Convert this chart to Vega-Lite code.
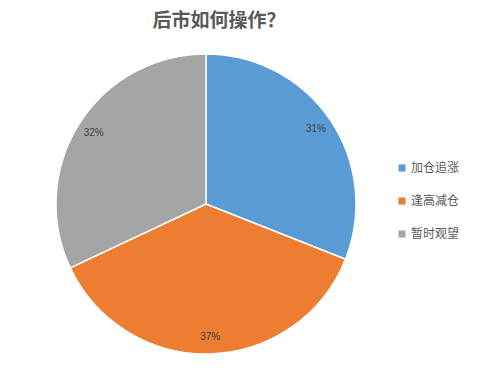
{
  "$schema": "https://vega.github.io/schema/vega-lite/v6.json",
  "width": 300,
  "height": 300,
  "autosize": {"type": "none"},
  "padding": {"left": 56, "top": 54, "right": 132, "bottom": 16},
  "background": "white",
  "title": {
    "text": "后市如何操作？",
    "font": "Noto Sans CJK SC",
    "fontSize": 19,
    "fontWeight": "bold",
    "color": "#595959",
    "anchor": "middle",
    "dx": 13,
    "offset": 20
  },
  "data": {
    "values": [
      {"category": "加仓追涨", "value": 31, "label": "31%", "order": 1},
      {"category": "逢高减仓", "value": 37, "label": "37%", "order": 2},
      {"category": "暂时观望", "value": 32, "label": "32%", "order": 3}
    ]
  },
  "encoding": {
    "theta": {"field": "value", "type": "quantitative", "stack": true},
    "order": {"field": "order", "type": "quantitative"}
  },
  "layer": [
    {
      "mark": {"type": "arc", "outerRadius": 150, "stroke": "white", "strokeWidth": 1.5},
      "encoding": {
        "color": {
          "field": "category",
          "type": "nominal",
          "scale": {"domain": ["加仓追涨", "逢高减仓", "暂时观望"], "range": ["#5B9BD5", "#ED7D31", "#A5A5A5"]},
          "legend": {
            "title": null,
            "orient": "none",
            "legendX": 340,
            "legendY": 108,
            "symbolType": "square",
            "symbolSize": 50,
            "symbolStrokeWidth": 0,
            "labelFont": "Noto Sans CJK SC",
            "labelFontSize": 12,
            "labelColor": "#595959",
            "rowPadding": 21,
            "labelOffset": 3
          }
        }
      }
    },
    {
      "mark": {"type": "text", "radius": 133, "font": "Liberation Sans", "fontSize": 10, "color": "#404040"},
      "encoding": {"text": {"field": "label"}}
    }
  ]
}
